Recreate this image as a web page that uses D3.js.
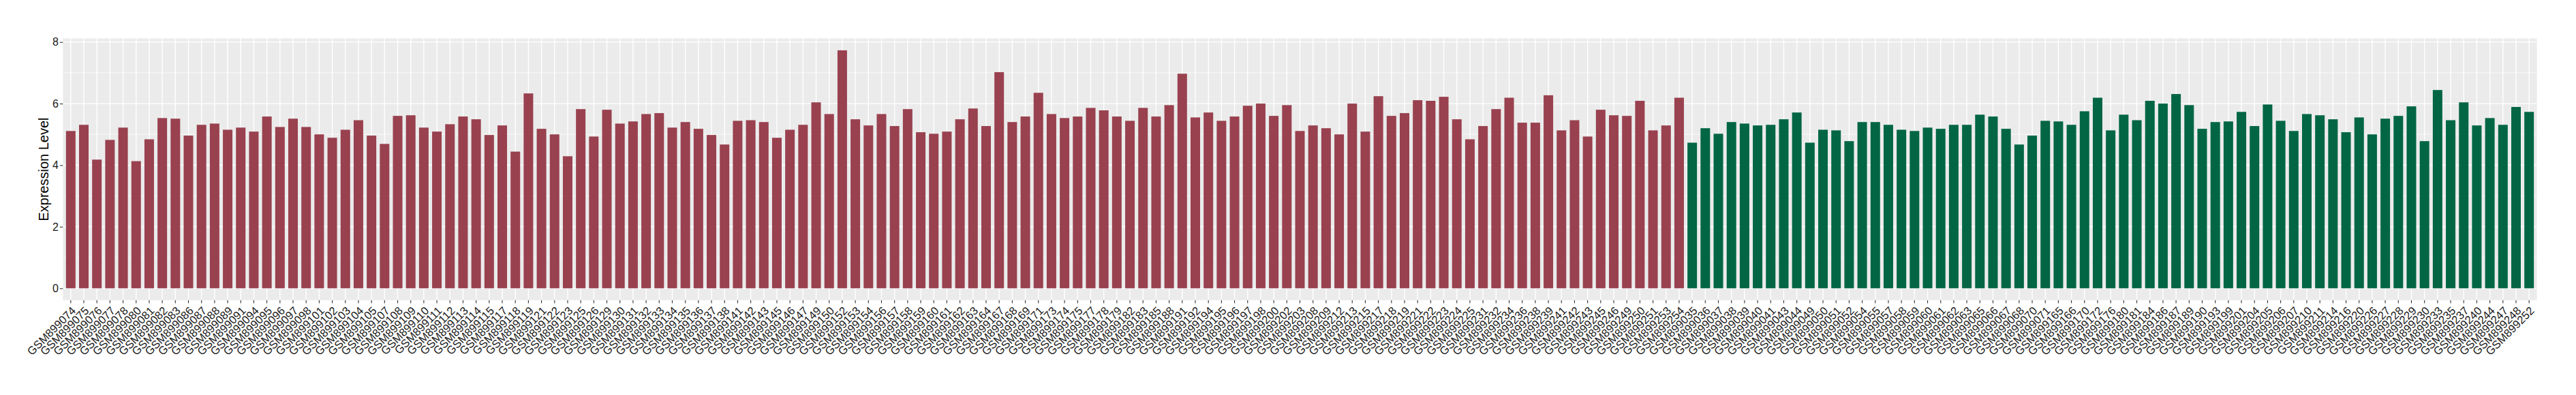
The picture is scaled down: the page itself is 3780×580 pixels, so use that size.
<!DOCTYPE html>
<html><head><meta charset="utf-8">
<script src="https://cdn.jsdelivr.net/npm/d3@7"></script>
<style>html,body{margin:0;padding:0;background:#fff;}svg{display:block;}</style>
</head><body>
<svg id="chart" width="3780" height="580"></svg>
<script>
const categoriesGroup1 = ["GSM899074","GSM899075","GSM899076","GSM899077","GSM899078","GSM899080","GSM899081","GSM899082","GSM899083","GSM899086","GSM899087","GSM899088","GSM899089","GSM899091","GSM899094","GSM899095","GSM899096","GSM899097","GSM899098","GSM899101","GSM899102","GSM899103","GSM899104","GSM899105","GSM899107","GSM899108","GSM899109","GSM899110","GSM899111","GSM899112","GSM899113","GSM899114",
"GSM899115","GSM899117","GSM899118","GSM899119","GSM899121","GSM899122","GSM899123","GSM899125","GSM899126","GSM899129","GSM899130","GSM899131","GSM899132","GSM899133","GSM899134","GSM899135","GSM899136","GSM899137","GSM899138","GSM899141","GSM899142","GSM899143","GSM899145","GSM899146","GSM899147","GSM899149","GSM899150","GSM899152","GSM899153","GSM899154","GSM899156","GSM899157",
"GSM899158","GSM899159","GSM899160","GSM899161","GSM899162","GSM899163","GSM899164","GSM899167","GSM899168","GSM899169","GSM899171","GSM899173","GSM899174","GSM899175","GSM899177","GSM899178","GSM899179","GSM899182","GSM899183","GSM899185","GSM899188","GSM899191","GSM899192","GSM899194","GSM899195","GSM899196","GSM899197","GSM899198","GSM899200","GSM899202","GSM899203","GSM899208",
"GSM899209","GSM899212","GSM899213","GSM899215","GSM899217","GSM899218","GSM899219","GSM899221","GSM899222","GSM899223","GSM899224","GSM899225","GSM899231","GSM899232","GSM899234","GSM899236","GSM899238","GSM899239","GSM899241","GSM899242","GSM899243","GSM899245","GSM899246","GSM899249","GSM899250","GSM899251","GSM899253","GSM899254"];
const valuesGroup1 = [5.11,5.31,4.18,4.82,5.22,4.13,4.84,5.53,5.51,4.96,5.31,5.35,5.15,5.22,5.09,5.58,5.24,5.51,5.24,5.00,4.89,5.15,5.46,4.96,4.69,5.60,5.62,5.22,5.09,5.33,5.58,5.49,4.98,5.29,4.44,6.33,5.18,5.00,
4.29,5.82,4.93,5.80,5.35,5.42,5.66,5.69,5.22,5.40,5.18,4.98,4.67,5.44,5.46,5.40,4.89,5.15,5.31,6.04,5.66,7.73,5.49,5.29,5.66,5.27,5.82,5.07,5.02,5.09,5.49,5.84,5.27,7.02,5.40,5.58,6.35,5.66,
5.53,5.58,5.86,5.78,5.58,5.44,5.86,5.58,5.95,6.97,5.55,5.71,5.44,5.58,5.93,6.00,5.60,5.95,5.11,5.29,5.20,5.00,6.00,5.09,6.24,5.60,5.69,6.11,6.09,6.22,5.49,4.84,5.27,5.82,6.19,5.38,5.38,6.27,
5.13,5.46,4.93,5.80,5.62,5.60,6.09,5.13,5.29,6.19];
const categoriesGroup2 = ["GSM899035","GSM899036","GSM899037","GSM899038","GSM899039","GSM899040","GSM899041","GSM899043","GSM899044","GSM899049","GSM899050","GSM899051","GSM899052","GSM899054","GSM899055","GSM899057","GSM899058","GSM899059","GSM899060","GSM899061","GSM899062","GSM899063","GSM899065","GSM899066","GSM899067","GSM899068","GSM899070","GSM899071",
"GSM899165","GSM899166","GSM899170","GSM899172","GSM899176","GSM899180","GSM899181","GSM899184","GSM899186","GSM899187","GSM899189","GSM899190","GSM899193","GSM899199","GSM899201","GSM899204","GSM899205","GSM899206","GSM899207","GSM899210","GSM899211","GSM899214","GSM899216","GSM899220","GSM899226","GSM899227","GSM899228","GSM899229","GSM899230","GSM899233","GSM899235","GSM899237","GSM899240","GSM899244","GSM899247","GSM899248","GSM899252"];
const valuesGroup2 = [4.73,5.20,5.02,5.40,5.35,5.29,5.31,5.49,5.71,4.73,5.15,5.13,4.78,5.40,5.40,5.31,5.15,5.11,5.22,5.18,5.31,5.31,5.64,5.58,5.18,4.67,4.96,5.44,
5.42,5.31,5.75,6.19,5.13,5.64,5.46,6.09,6.00,6.31,5.95,5.18,5.40,5.42,5.73,5.27,5.97,5.44,5.11,5.66,5.62,5.49,5.07,5.55,5.00,5.51,5.60,5.91,4.78,6.44,5.46,6.04,5.29,5.53,5.31,5.89,5.73];
const groupNames = ["group1","group2"];
const yTickValues = [0,2,4,6,8];
const yTitle = "Expression Level";

const data = categoriesGroup1.map((c,i)=>({cat:c,val:valuesGroup1[i],grp:groupNames[0]}))
  .concat(categoriesGroup2.map((c,i)=>({cat:c,val:valuesGroup2[i],grp:groupNames[1]})));

const svg = d3.select("#chart");
const panel = {left:92.3, right:3722.7, top:56.4, bottom:440.8};
const font = "'Liberation Sans', Arial, Helvetica, sans-serif";

const x = d3.scaleBand().domain(data.map(d=>d.cat)).range([panel.left,panel.right])
  .paddingInner(0.27).paddingOuter(0.235);
const maxV = d3.max(data,d=>d.val);
const y = d3.scaleLinear().domain([-0.05*maxV, 1.05*maxV]).range([panel.bottom,panel.top]);
const color = d3.scaleOrdinal().domain(groupNames).range(["#99414F","#026644"]);

svg.append("rect").attr("x",panel.left).attr("y",panel.top)
  .attr("width",panel.right-panel.left).attr("height",panel.bottom-panel.top).attr("fill","#EBEBEB");

const minor = d3.range(1,9,2);
svg.append("g").selectAll("line").data(minor).join("line")
  .attr("x1",panel.left).attr("x2",panel.right)
  .attr("y1",d=>y(d)).attr("y2",d=>y(d)).attr("stroke","#fff").attr("stroke-width",0.7);
svg.append("g").selectAll("line").data(yTickValues).join("line")
  .attr("x1",panel.left).attr("x2",panel.right)
  .attr("y1",d=>y(d)).attr("y2",d=>y(d)).attr("stroke","#fff").attr("stroke-width",1.4);
svg.append("g").selectAll("line").data(data).join("line")
  .attr("x1",d=>x(d.cat)+x.bandwidth()/2).attr("x2",d=>x(d.cat)+x.bandwidth()/2)
  .attr("y1",panel.top).attr("y2",panel.bottom).attr("stroke","#fff").attr("stroke-width",1.4);

svg.append("g").selectAll("rect").data(data).join("rect")
  .attr("x",d=>x(d.cat)).attr("width",x.bandwidth())
  .attr("y",d=>y(d.val)).attr("height",d=>y(0)-y(d.val))
  .attr("fill",d=>color(d.grp));

const yAxis = d3.axisLeft(y).tickValues(yTickValues).tickSize(4.5).tickPadding(2).tickFormat(d3.format("d"));
const gy = svg.append("g").attr("transform",`translate(${panel.left},0)`).call(yAxis);
gy.select(".domain").remove();
gy.selectAll(".tick line").attr("stroke","#333").attr("stroke-width",1.1);
gy.selectAll(".tick text").attr("fill","#1a1a1a").style("font-family",font).style("font-size","16px");

const xAxis = d3.axisBottom(x).tickSize(4.5).tickPadding(0);
const gx = svg.append("g").attr("transform",`translate(0,${panel.bottom})`).call(xAxis);
gx.select(".domain").remove();
gx.selectAll(".tick line").attr("stroke","#333").attr("stroke-width",1.1);
gx.selectAll(".tick text")
  .attr("fill","#1a1a1a").style("font-family",font).style("font-size","16.5px")
  .attr("text-anchor","end").attr("dy",null).attr("y",0)
  .attr("transform","translate(8.5,16.5) rotate(-45)");

svg.append("text").attr("transform",`translate(71,${(panel.top+panel.bottom)/2}) rotate(-90)`)
  .attr("text-anchor","middle").style("font-family",font).style("font-size","20px")
  .attr("fill","#000").text(yTitle);
</script>
</body></html>
